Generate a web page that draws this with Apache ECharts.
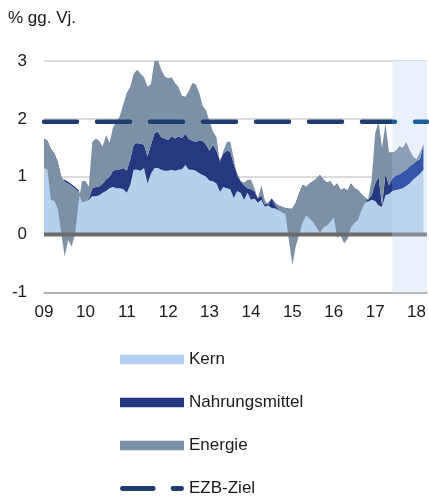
<!DOCTYPE html>
<html>
<head>
<meta charset="utf-8">
<script src="https://cdn.jsdelivr.net/npm/echarts@6/dist/echarts.min.js"></script>
<style>
html,body{margin:0;padding:0;background:#ffffff;}
#c{width:429px;height:499px;}
</style>
</head>
<body>
<div id="c"></div>
<script>
// ---- data (monthly, Jan 2009 – Mar 2018) ----
// level of the core contribution (top of "Kern")
const kern = [
  1.2, 1.2, 1.1, 1.05, 1.0, 0.97, 0.94, 0.91, 0.87, 0.82, 0.77, 0.58,
  0.57, 0.6, 0.66, 0.66, 0.68, 0.72, 0.75, 0.8, 0.82, 0.8, 0.8, 0.78,
  0.72, 0.85, 1.12, 1.12, 1.1, 1.15, 0.88, 1.05, 1.15, 1.15, 1.12, 1.1,
  1.1, 1.12, 1.1, 1.12, 1.13, 1.2, 1.12, 1.12, 1.1, 1.06, 1.03, 1.0,
  0.93, 0.92, 0.88, 0.74, 0.82, 0.8, 0.78, 0.63, 0.75, 0.72, 0.6, 0.72,
  0.6, 0.62, 0.55, 0.6, 0.48, 0.5, 0.46, 0.45, 0.42, 0.4, 0.42, 0.45,
  0.45, 0.5, 0.55, 0.6, 0.6, 0.6, 0.6, 0.6, 0.6, 0.6, 0.6, 0.6,
  0.6, 0.55, 0.55, 0.5, 0.5, 0.5, 0.55, 0.55, 0.55, 0.56, 0.57, 0.6,
  0.58, 0.5, 0.48, 0.68, 0.7, 0.75, 0.77, 0.78, 0.8, 0.84, 0.88, 0.95,
  1.0, 1.05, 1.12
];
// level of core + food contributions (top of "Nahrungsmittel")
const kernNahrung = [
  1.66, 1.62, 1.48, 1.4, 1.25, 1.0, 0.91, 0.88, 0.84, 0.79, 0.74, 0.57,
  0.57, 0.62, 0.8, 0.82, 0.83, 0.88, 0.95, 1.0, 1.1, 1.12, 1.13, 1.15,
  1.1, 1.3, 1.55, 1.58, 1.57, 1.55, 1.35, 1.55, 1.75, 1.78, 1.68, 1.66,
  1.64, 1.7, 1.66, 1.7, 1.67, 1.74, 1.65, 1.62, 1.6, 1.63, 1.62, 1.55,
  1.45, 1.55, 1.45, 1.28, 1.4, 1.45, 1.43, 1.22, 1.05, 0.92, 0.85, 0.8,
  0.78, 0.75, 0.62, 0.68, 0.52, 0.55, 0.62, 0.55, 0.5, 0.48, 0.46, 0.45,
  0.45, 0.55, 0.72, 0.86, 0.82, 0.88, 0.92, 0.97, 1.03, 0.95, 0.9, 0.92,
  0.83, 0.88, 0.77, 0.8, 0.76, 0.88, 0.8, 0.77, 0.7, 0.64, 0.6, 0.68,
  0.88, 1.0, 0.5, 1.05, 0.85, 0.97, 1.02, 1.04, 1.08, 1.12, 1.18, 1.22,
  1.27, 1.3, 1.56
];
// headline inflation (core + food + energy)
const gesamt = [
  1.15, 1.12, 0.6, 0.58, 0.45, 0.02, -0.38, -0.1, -0.21, 0.0, 0.55, 0.92,
  0.93, 0.83, 1.6, 1.66, 1.62, 1.52, 1.72, 1.58, 1.85, 1.95, 2.05, 2.25,
  2.45, 2.55, 2.78, 2.85, 2.78, 2.72, 2.56, 2.6, 3.0, 3.02, 2.85, 2.73,
  2.7, 2.72, 2.62, 2.55, 2.4, 2.38, 2.48, 2.62, 2.6, 2.45, 2.22, 2.15,
  1.95, 1.78, 1.68, 1.23, 1.45, 1.6, 1.61, 1.32, 1.0, 0.92, 0.9, 0.94,
  0.95, 0.8, 0.62, 0.85, 0.6, 0.5, 0.62, 0.5, 0.42, 0.38, 0.36, -0.1,
  -0.53, -0.2, 0.0, 0.22, 0.33, 0.27, 0.22, 0.12, 0.03, 0.13, 0.15, 0.22,
  0.3, -0.05, -0.02, -0.15, -0.08, 0.12, 0.2, 0.25, 0.42, 0.54, 0.62, 0.95,
  1.75, 1.95, 1.5, 1.92, 1.42, 1.42, 1.45, 1.53, 1.5, 1.6, 1.46, 1.35,
  1.3, 1.42, 1.56
];
const ezbZiel = 1.95;
const yearLabels = ['09','10','11','12','13','14','15','16','17','18'];
const firstYear = 2009;
const monthCount = 112;              // Jan 2009 .. Apr 2018 (axis end)
const projectionStart = '2017-06';   // shaded projection period

// ---- categories ----
const months = [];
for (let i = 0; i < monthCount; i++) {
  const y = firstYear + Math.floor(i / 12);
  const m = (i % 12) + 1;
  months.push(y + '-' + (m < 10 ? '0' + m : '' + m));
}
const projIndex = months.indexOf(projectionStart);

// contributions for stacking
const nahrungBeitrag = kernNahrung.map((v, i) => +(v - kern[i]).toFixed(3));
const energieBeitrag = gesamt.map((v, i) => +(v - kernNahrung[i]).toFixed(3));
const zielLinie = months.map(() => ezbZiel);
const nullLinie = months.map(() => 0);

const C = {
  kern: '#b4d0ec', kernP: '#bad4ee',
  nahrung: '#26387f', nahrungP: '#3455a8',
  energie: '#7c90a6', energieP: '#8c9fb7',
  ezb: '#1d3d6f', ezbP: '#1b609d',
  zero: '#6d6a6a', zeroP: '#878a8f',
  shade: '#eaf1fa'
};

function sectionMap(seriesIndex, before, after) {
  return {
    type: 'piecewise', show: false, dimension: 0, seriesIndex: seriesIndex,
    pieces: [
      { lt: projIndex, color: before },
      { gte: projIndex, lte: monthCount + 50, color: after },
      { gt: monthCount + 50, color: after }
    ]
  };
}

const areaBase = {
  type: 'line', stack: 'beitrag', stackStrategy: 'all',
  symbol: 'none', showSymbol: false, silent: true,
  lineStyle: { width: 0 }, areaStyle: { opacity: 1 }, z: 2
};

const font = 'Liberation Sans, Arial, sans-serif';
const chart = echarts.init(document.getElementById('c'));
chart.setOption({
  animation: false,
  backgroundColor: '#ffffff',
  textStyle: { fontFamily: font },
  title: {
    text: '% gg. Vj.', left: 8, top: 10, padding: 0,
    textStyle: { fontSize: 17, fontWeight: 'normal', color: '#1a1a1a', fontFamily: font }
  },
  grid: { left: 44, right: 2, top: 61, bottom: 206.7 },
  xAxis: {
    type: 'category', data: months, boundaryGap: false,
    axisLine: { show: true, onZero: false, lineStyle: { color: '#a3a3a3', width: 1.5 } },
    axisTick: { show: false },
    splitLine: { show: false },
    axisLabel: {
      interval: function (i, v) { return v.slice(5) === '01'; },
      formatter: function (v) { return yearLabels[+v.slice(0, 4) - firstYear]; },
      margin: 12, fontSize: 17, color: '#1a1a1a', fontFamily: font
    }
  },
  yAxis: {
    type: 'value', min: -1, max: 3, interval: 1,
    axisLine: { show: false }, axisTick: { show: false },
    axisLabel: { margin: 17, fontSize: 17, color: '#1a1a1a', fontFamily: font },
    splitLine: { lineStyle: { color: '#cfcfcf', width: 1.5 } }
  },
  legend: {
    orient: 'vertical', left: 120, top: 351, height: 170, padding: 0,
    itemWidth: 64, itemHeight: 9.5, itemGap: 26,
    symbolKeepAspect: true, selectedMode: false,
    textStyle: { fontSize: 17, color: '#1a1a1a', fontFamily: font },
    data: [
      { name: 'Kern', icon: 'rect', itemStyle: { color: C.kern, borderWidth: 0 } },
      { name: 'Nahrungsmittel', icon: 'rect', itemStyle: { color: C.nahrung, borderWidth: 0 } },
      { name: 'Energie', icon: 'rect', itemStyle: { color: C.energie, borderWidth: 0 } },
      { name: 'EZB-Ziel',
        icon: 'path://M2.5,0 L34.8,0 A2.5,2.5 0 0 1 34.8,5 L2.5,5 A2.5,2.5 0 0 1 2.5,0 Z M55.5,0 L64.5,0 A2.5,2.5 0 0 1 64.5,5 L55.5,5 A2.5,2.5 0 0 1 55.5,0 Z',
        itemStyle: { color: C.ezb, borderWidth: 0 } }
    ]
  },
  visualMap: [
    sectionMap(0, C.kern, C.kernP),
    sectionMap(1, C.nahrung, C.nahrungP),
    sectionMap(2, C.energie, C.energieP),
    sectionMap(3, C.zero, C.zeroP),
    sectionMap(4, C.ezb, C.ezbP)
  ],
  series: [
    Object.assign({}, areaBase, { name: 'Kern', color: C.kern, data: kern }),
    Object.assign({}, areaBase, { name: 'Nahrungsmittel', color: C.nahrung, data: nahrungBeitrag }),
    Object.assign({}, areaBase, { name: 'Energie', color: C.energie, data: energieBeitrag }),
    {
      name: 'Nulllinie', type: 'line', data: nullLinie, symbol: 'none', silent: true, z: 3,
      color: C.zero, lineStyle: { width: 4 },
      markArea: {
        silent: true,
        itemStyle: { color: C.shade },
        data: [[{ xAxis: projIndex }, { xAxis: monthCount - 1 }]]
      }
    },
    {
      name: 'EZB-Ziel', type: 'line', data: zielLinie, symbol: 'none', silent: true, z: 4,
      color: C.ezb, lineStyle: { width: 4.5, type: [33, 20], cap: 'round' }
    }
  ]
});
</script>
</body>
</html>
